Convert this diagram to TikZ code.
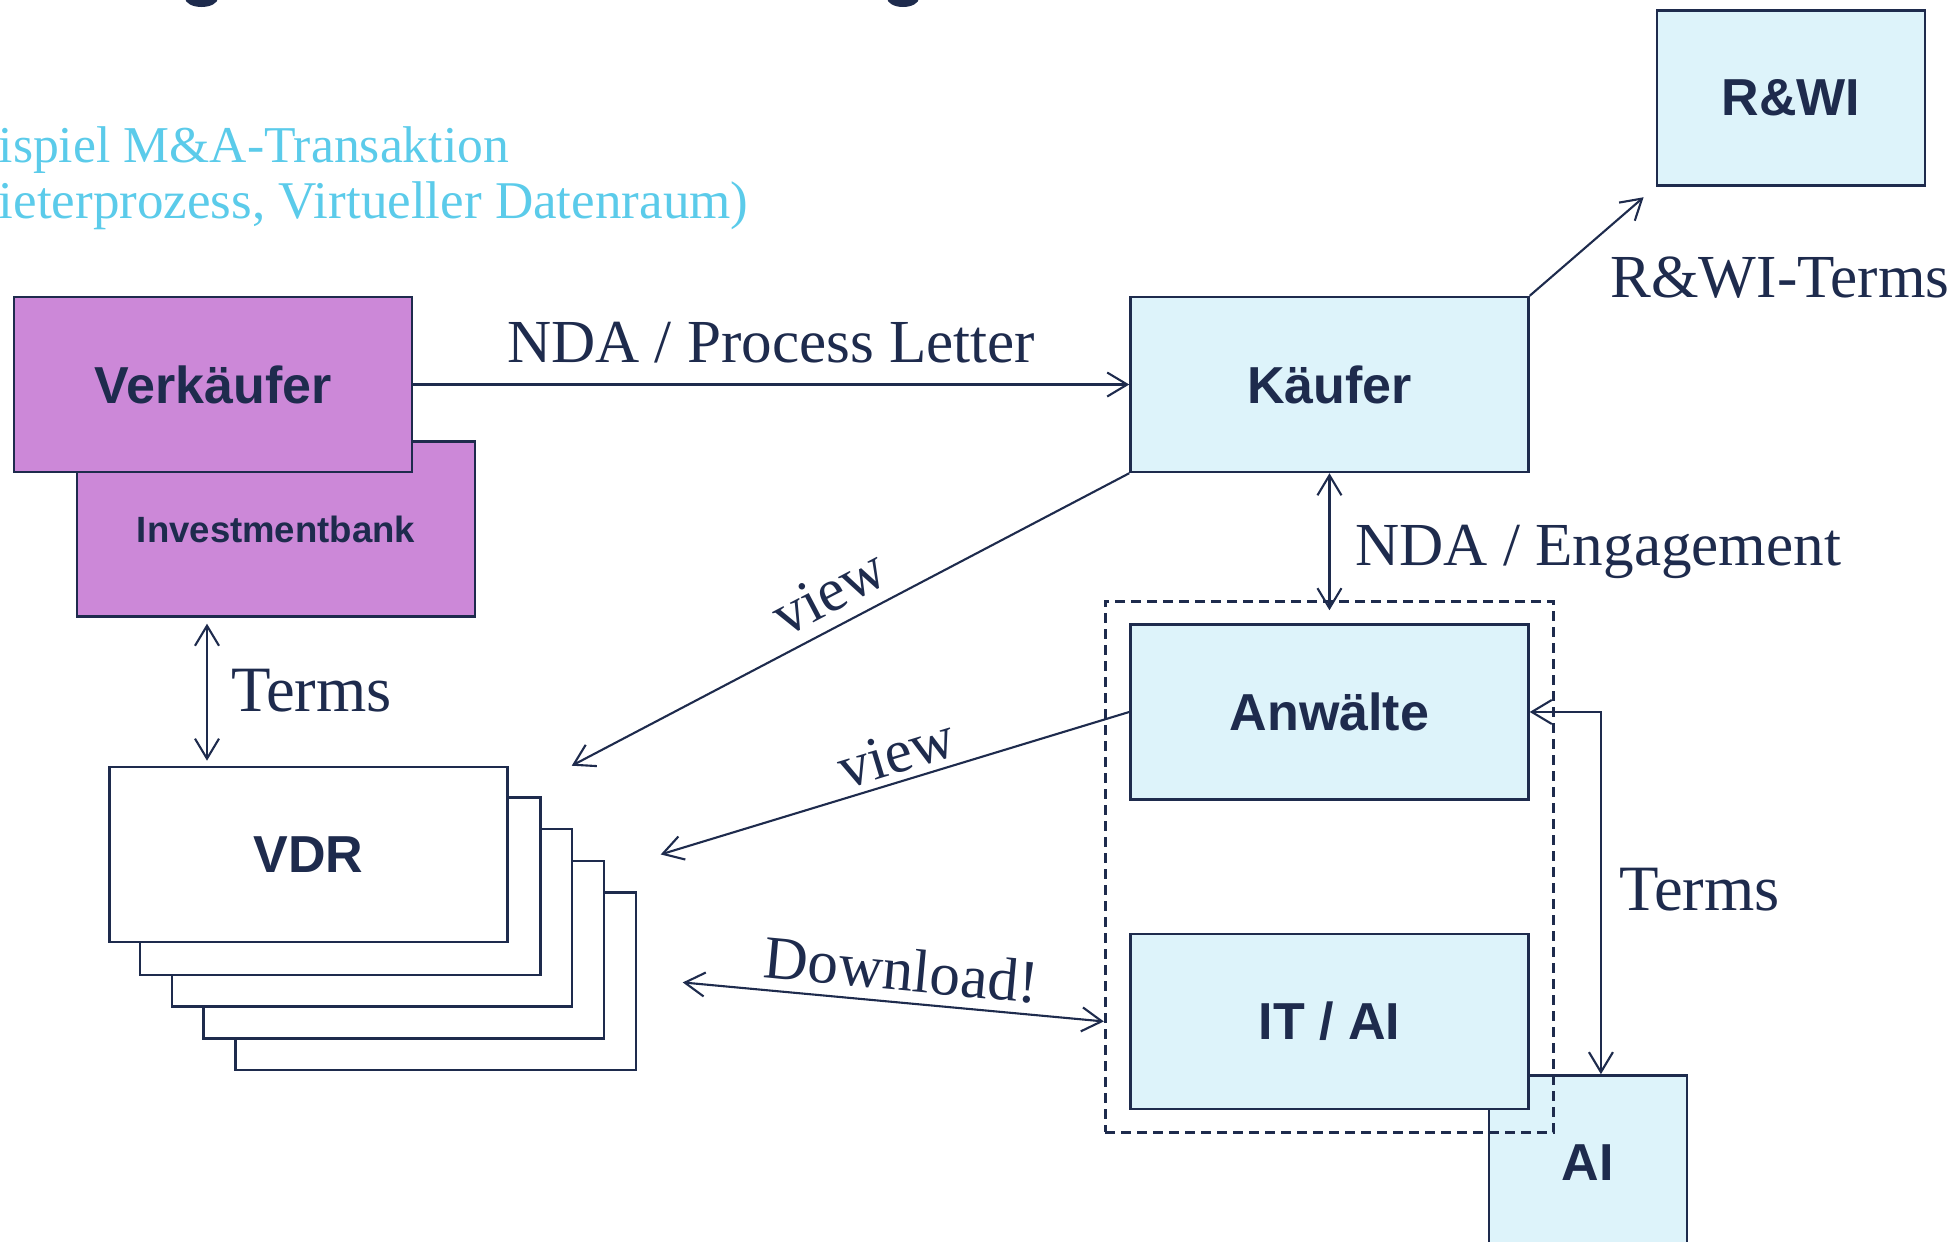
\documentclass[tikz,border=0pt]{standalone}
\usepackage{fontspec}
\setmainfont{Liberation Serif}
\newfontfamily\boxfont{Liberation Sans}
\usetikzlibrary{positioning, arrows.meta, fit, backgrounds}

\definecolor{navy}{RGB}{30,43,77}
\definecolor{lila}{RGB}{204,136,216}
\definecolor{hellblau}{RGB}{221,243,250}
\definecolor{tuerkis}{RGB}{91,203,234}

\begin{document}
\begin{tikzpicture}[>={Straight Barb[length=2mm,width=2.4mm]}, node distance=1.5cm,
  box/.style={rectangle, draw=navy, line width=0.7pt, minimum width=3.98cm, minimum height=1.75cm, inner sep=0pt, text=navy, font=\boxfont\bfseries\fontsize{14.8}{17}\selectfont},
  pinkbox/.style={box, fill=lila},
  bluebox/.style={box, fill=hellblau},
  page/.style={draw=navy, line width=0.7pt, fill=white},
  lbl/.style={text=navy, inner sep=0pt, font=\fontsize{17.4}{20}\selectfont},
  termlbl/.style={lbl, font=\fontsize{18.4}{21}\selectfont},
  sub/.style={anchor=base west, inner sep=0pt, text=tuerkis, font=\fontsize{14.7}{16}\selectfont},
  conn/.style={draw=navy, line width=0.6pt}]
  \useasboundingbox (0,0) rectangle (19.52,-12.41);

  % Untertitel, links abgeschnitten
  \node[sub] (sub1) at (-0.02,-1.62) {ispiel M\&A-Transaktion};
  \node[sub, font=\fontsize{15.1}{16}\selectfont] (sub2) at (-0.02,-2.18) {ieterprozess, Virtueller Datenraum)};

  % Unterlaengen des Titels am oberen Rand
  \fill[navy] (2.015,0.02) ellipse (0.165 and 0.09);
  \fill[navy] (9.03,0.02) ellipse (0.16 and 0.09);

  % Verkaeuferseite
  \node[pinkbox] (verk) at (2.13,-3.845) {Verkäufer};
  \begin{scope}[on background layer]
    \node[pinkbox, below=-0.33cm of verk, xshift=0.63cm, font=\boxfont\bfseries\fontsize{10.4}{12}\selectfont] (invest) {Investmentbank};
  \end{scope}

  % Kaeuferseite
  \node[bluebox, right=7.16cm of verk] (kaeufer) {Käufer};
  \node[bluebox, minimum width=2.68cm, above right=1.09cm and 1.26cm of kaeufer] (rwi) {R\&WI};
  \node[bluebox, below=1.50cm of kaeufer] (anw) {Anwälte};
  \node[bluebox, below=1.32cm of anw] (itai) {IT / AI};
  \begin{scope}[on background layer]
    \node[bluebox, minimum width=1.98cm, below right=-0.36cm and -0.42cm of itai] (ai) {AI};
  \end{scope}
  \node[draw=navy, line width=0.8pt, dash pattern=on 0.1cm off 0.06cm, inner xsep=0.24cm, inner ysep=0.22cm, fit=(anw)(itai)] (grp) {};

  % Datenraum als Stapel
  \node[box, fill=white, below=1.48cm of invest, xshift=0.325cm] (vdr) {VDR};
  \begin{scope}[on background layer]
    \foreach \i in {4,3,2,1}
      \draw[page] ([shift={(0.3175*\i,-0.3175*\i)}]vdr.south west) rectangle ([shift={(0.3175*\i,-0.3175*\i)}]vdr.north east);
  \end{scope}

  \coordinate (tx) at (2.07,0);
  \coordinate (v1) at ([xshift=0.63cm]vdr.north east);
  \coordinate (v2) at ([xshift=1.52cm]vdr.east);
  \coordinate (dl) at ([shift={(1.74,-1.28)}]vdr.east);

  \draw[conn, ->] (verk) -- node[lbl, anchor=base, yshift=0.225cm] {NDA / Process Letter} (kaeufer);
  \draw[conn, ->, shorten >=0.16cm] (kaeufer.north east) -- (rwi.south west);
  \node[lbl, anchor=base] (rwiterms) at ([xshift=-0.11cm, yshift=-1.11cm]rwi.south) {R\&WI-Terms};
  \draw[conn, <->, shorten >=0.13cm] (kaeufer) -- node[lbl, anchor=base west, xshift=0.25cm, yshift=-0.17cm] {NDA / Engagement} (anw);
  \draw[conn, <->, shorten <=0.06cm, shorten >=0.05cm] (invest.south -| tx) -- node[termlbl, anchor=base west, xshift=0.23cm, yshift=-0.2cm] {Terms} (vdr.north -| tx);
  \draw[conn, ->] (kaeufer.south west) -- node[lbl, pos=0.51, sloped, above=0.125cm] {view} (v1);
  \draw[conn, ->] (anw.west) -- node[lbl, pos=0.479, sloped, above=0.07cm] {view} (v2);
  \draw[conn, <->] (dl) -- node[lbl, pos=0.513, sloped, above=0.1cm] {Download!} (grp.west |- itai.west);
  \draw[conn, <->] (anw.east) -| node[termlbl, pos=0.75, anchor=base west, xshift=0.17cm, yshift=-0.17cm] {Terms} ([xshift=0.13cm]ai.north);
\end{tikzpicture}
\end{document}
